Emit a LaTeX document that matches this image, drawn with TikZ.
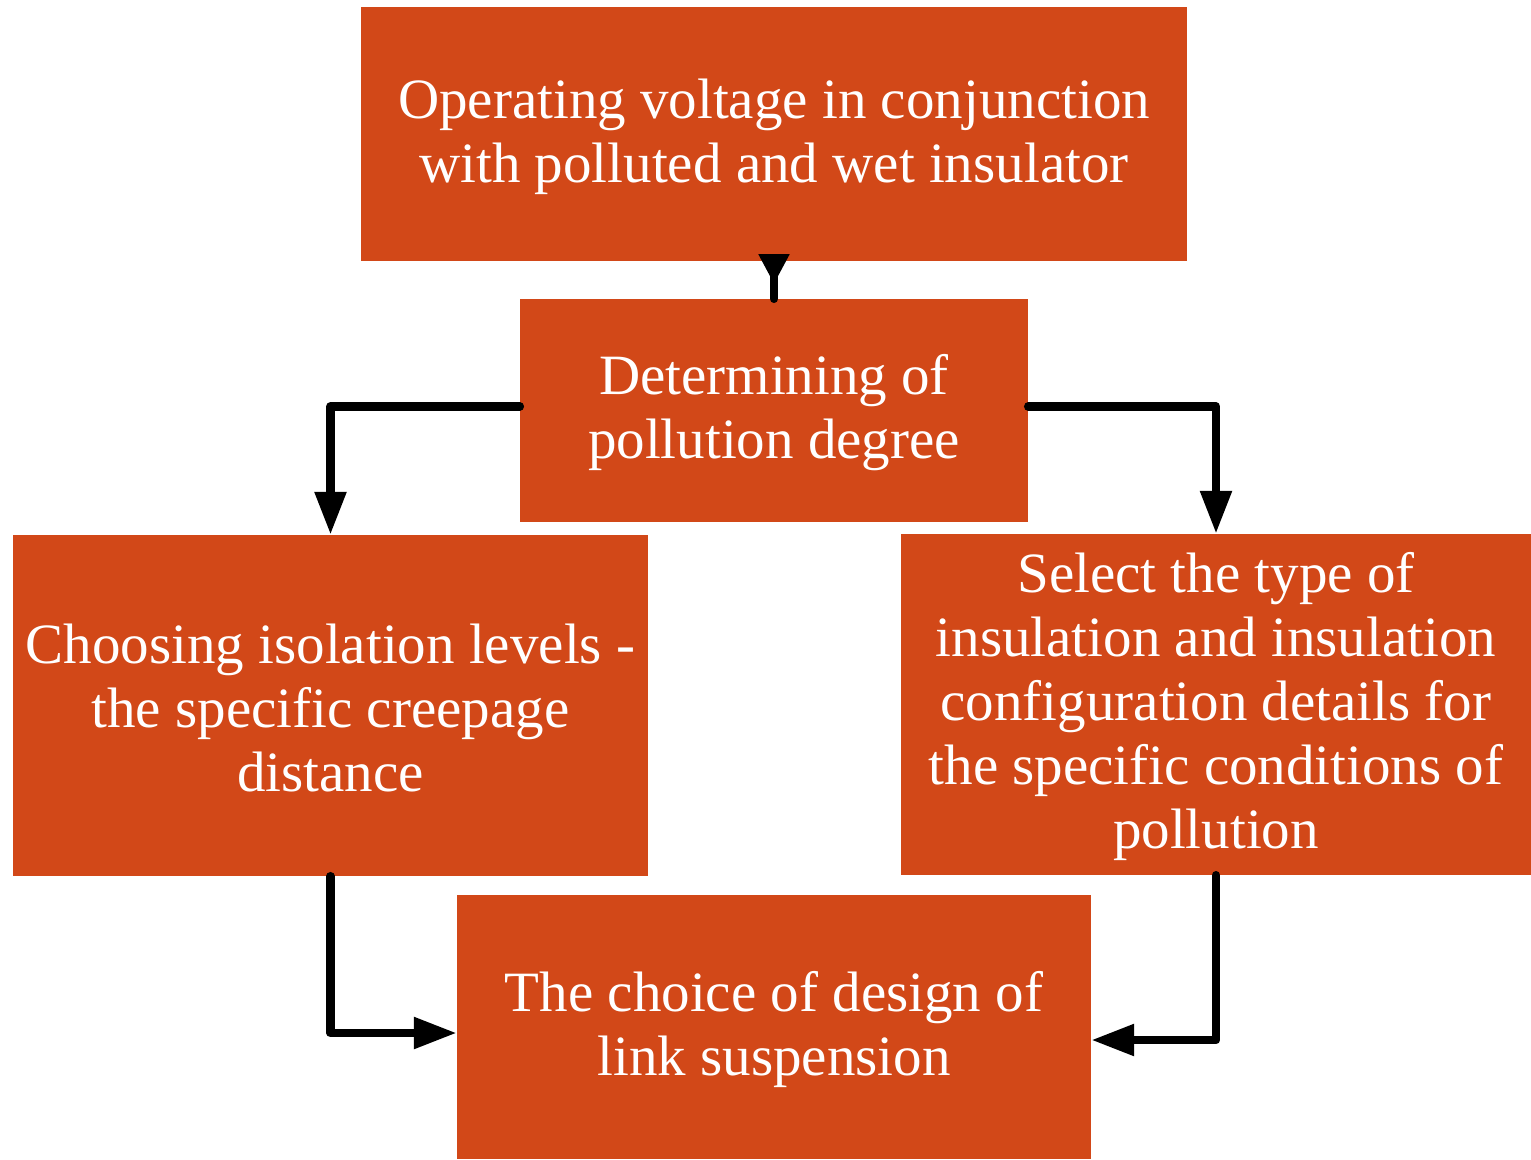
\documentclass[tikz,border=0pt]{standalone}
\usepackage{fontspec}
\setmainfont{Liberation Serif}
\usetikzlibrary{arrows.meta}
\definecolor{boxfill}{RGB}{210,72,24}
\newcommand{\tsp}{\rule{0pt}{45pt}}
\tikzset{
  box/.style={fill=boxfill, text=white, inner sep=0pt, align=center,
    font=\fontsize{57}{64}\selectfont},
  conn/.style={line width=8.5pt, line cap=round, line join=round,
    -{Triangle[width=30pt,length=43pt]}}
}
\begin{document}
\begin{tikzpicture}[x=1pt,y=-1pt]
\useasboundingbox (0,0) rectangle (1531,1159);
\node[box, minimum width=826pt, minimum height=254pt] (t) at (774,134)
  {\tsp Operating voltage in conjunction\\with polluted and wet insulator};
\node[box, minimum width=508pt, minimum height=223pt] (d) at (774,410.5)
  {\tsp Determining of\\pollution degree};
\node[box, minimum width=635pt, minimum height=341pt] (l) at (330.5,705.5)
  {\tsp Choosing isolation levels -\\the specific creepage\\distance};
\node[box, minimum width=630pt, minimum height=341pt] (r) at (1216,704.5)
  {\tsp Select the type of\\insulation and insulation\\configuration details for\\the specific conditions of\\pollution};
\node[box, minimum width=634pt, minimum height=264pt] (b) at (774,1027)
  {\tsp The choice of design of\\link suspension};
\draw[conn, -{Triangle[reversed,width=29pt,length=30pt]}] (d.north) -- ([yshift=7pt]t.south);
\draw[conn] ([yshift=4pt]d.west) -| (l.north);
\draw[conn] ([yshift=4pt]d.east) -| (r.north);
\draw[conn] (l.south) |- ([yshift=-6pt]b.west);
\draw[conn] (r.south) |- ([yshift=-13pt]b.east);
\end{tikzpicture}
\end{document}
